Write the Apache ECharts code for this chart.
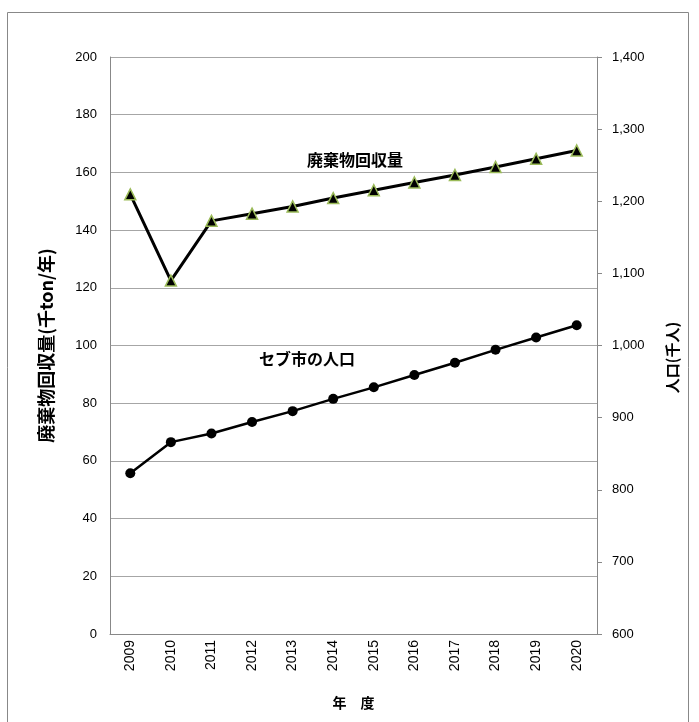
<!DOCTYPE html>
<html>
<head>
<meta charset="utf-8">
<script src="https://cdn.jsdelivr.net/npm/echarts@6/dist/echarts.min.js"></script>
<style>
html,body{margin:0;padding:0;background:#fff;}
#chart{width:699px;height:722px;}
</style>
</head>
<body>
<div id="chart"></div>
<script>
const years = ['2009','2010','2011','2012','2013','2014','2015','2016','2017','2018','2019','2020'];
const wasteCollected = [152.4, 122.5, 143.2, 145.7, 148.2, 151.1, 153.8, 156.5, 159.1, 161.9, 164.7, 167.6];
const population = [823, 866, 878, 894, 909, 926, 942, 959, 976, 994, 1011, 1028];
const leftTicks = {min: 0, max: 200, interval: 20};
const rightTicks = {min: 600, max: 1400, interval: 100};
const wasteLabel = '廃棄物回収量';
const popLabel = 'セブ市の人口';

const chart = echarts.init(document.getElementById('chart'));
const cjk = '"Noto Sans CJK JP", "Noto Sans", sans-serif';
const latin = '"Liberation Sans", Arial, sans-serif';
chart.setOption({
  animation: false,
  backgroundColor: '#fff',
  grid: {left: 110, right: 102, top: 57, bottom: 88},
  xAxis: {
    type: 'category',
    data: years,
    boundaryGap: true,
    name: '年　度',
    nameLocation: 'middle',
    nameGap: 62,
    nameTextStyle: {fontFamily: cjk, fontWeight: 'bold', fontSize: 14, color: '#000'},
    axisLine: {show: true, lineStyle: {color: '#888', width: 1}},
    axisTick: {show: false},
    axisLabel: {rotate: 90, margin: 6, fontFamily: latin, fontSize: 14, color: '#000'}
  },
  yAxis: [{
    type: 'value',
    min: leftTicks.min, max: leftTicks.max, interval: leftTicks.interval,
    name: '廃棄物回収量(千ton/年)',
    nameLocation: 'middle',
    nameGap: 55,
    nameRotate: 90,
    nameTextStyle: {fontFamily: cjk, fontWeight: 'bold', fontSize: 18, color: '#000'},
    axisLine: {show: true, lineStyle: {color: '#888', width: 1}},
    axisTick: {show: false},
    axisLabel: {margin: 13, fontFamily: latin, fontSize: 13, color: '#000'},
    splitLine: {show: true, lineStyle: {color: '#a6a6a6', width: 1}}
  }, {
    type: 'value',
    position: 'right',
    min: rightTicks.min, max: rightTicks.max, interval: rightTicks.interval,
    name: '人口(千人)',
    nameLocation: 'middle',
    nameGap: 68,
    nameRotate: 90,
    nameTextStyle: {fontFamily: cjk, fontWeight: 'bold', fontSize: 15, color: '#000',
      padding: [0, 24, 0, 0]},
    axisLine: {show: true, lineStyle: {color: '#888', width: 1}},
    axisTick: {show: true, inside: false, length: 5, lineStyle: {color: '#888'}},
    axisLabel: {margin: 15, fontFamily: latin, fontSize: 13, color: '#000',
      formatter: v => v.toLocaleString('en-US')},
    splitLine: {show: false}
  }],
  series: [{
    name: wasteLabel,
    type: 'line',
    yAxisIndex: 0,
    data: wasteCollected,
    symbol: 'triangle',
    symbolSize: 11,
    lineStyle: {color: '#000', width: 3},
    itemStyle: {color: '#000', borderColor: '#9bbb59', borderWidth: 1.5},
    z: 3
  }, {
    name: popLabel,
    type: 'line',
    yAxisIndex: 1,
    data: population,
    symbol: 'circle',
    symbolSize: 10,
    lineStyle: {color: '#000', width: 2.5},
    itemStyle: {color: '#000', borderColor: '#000', borderWidth: 0},
    z: 3
  }],
  graphic: [{
    type: 'rect',
    shape: {x: 7.5, y: 12.5, width: 681, height: 720},
    style: {fill: null, stroke: '#888', lineWidth: 1},
    silent: true, z: -1
  }, {
    type: 'text',
    left: 307, top: 152,
    style: {text: wasteLabel, font: 'bold 16px ' + cjk, fill: '#000'}
  }, {
    type: 'text',
    left: 259, top: 351,
    style: {text: popLabel, font: 'bold 16px ' + cjk, fill: '#000'}
  }]
});
</script>
</body>
</html>
